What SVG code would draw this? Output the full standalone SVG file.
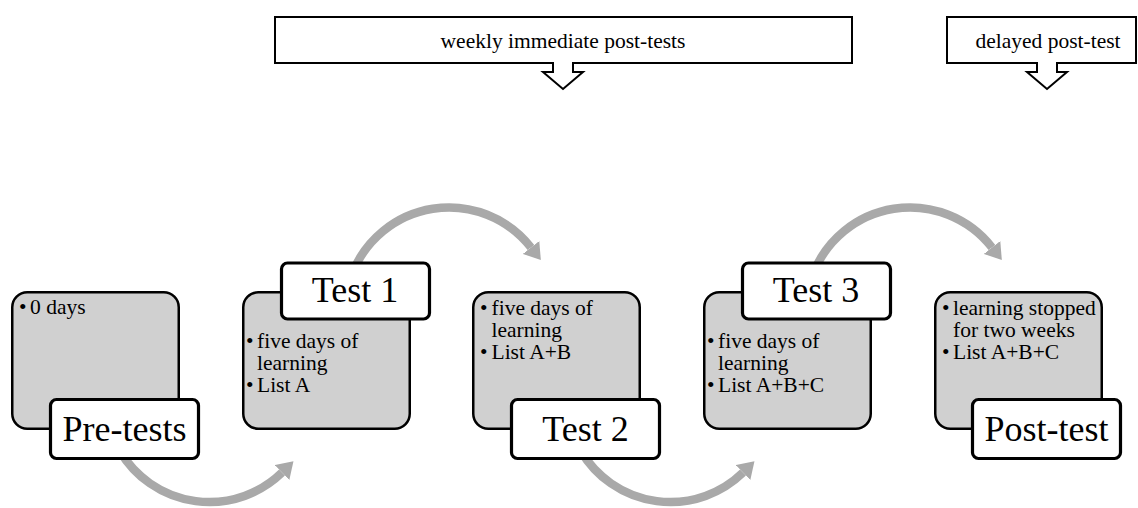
<svg xmlns="http://www.w3.org/2000/svg" width="1138" height="508" viewBox="0 0 1138 508">
  <style>
    .txt { font-family: "Liberation Serif", "Times New Roman", serif; fill: #000; }
    .body { font-size: 21.5px; }
    .title { font-size: 36px; text-anchor: middle; }
    .note { font-size: 21.5px; text-anchor: middle; }
    .panel { fill: #D0D0D0; stroke: #000; stroke-width: 2.5; }
    .tag { fill: #fff; stroke: #000; stroke-width: 3.2; }
    .callout { fill: #fff; stroke: #000; stroke-width: 2; stroke-linejoin: miter; }
    .flow { fill: none; stroke: #A9A9A9; stroke-width: 8.5; }
  </style>
  <defs>
    <marker id="head" markerUnits="userSpaceOnUse" viewBox="0 0 16 21" markerWidth="16" markerHeight="21" refX="0" refY="10.5" orient="auto">
      <path d="M0,0 L16,10.5 L0,21 Z" fill="#A9A9A9"/>
    </marker>
  </defs>

  <rect width="1138" height="508" fill="#fff"/>

  <!-- callouts above the timeline -->
  <g id="callout-weekly">
    <path class="callout" d="M275,17 H852 V63 H573 V72 H583 L563,89 L543,72 H553 V63 H275 Z"/>
    <text class="txt note" x="563" y="48">weekly immediate post-tests</text>
  </g>
  <g id="callout-delayed">
    <path class="callout" d="M947,17 H1136 V63 H1057 V72 H1067 L1047,89 L1027,72 H1037 V63 H947 Z"/>
    <text class="txt note" x="1048" y="48">delayed post-test</text>
  </g>

  <!-- curved connectors between stages -->
  <g id="connectors">
    <path class="flow" marker-end="url(#head)" d="M119.9,451 A104,104 0 0 0 282,472.5"/>
    <path class="flow" marker-end="url(#head)" d="M351.3,275.9 A104,104 0 0 1 531,247.5"/>
    <path class="flow" marker-end="url(#head)" d="M580.9,451 A104,104 0 0 0 743,472.5"/>
    <path class="flow" marker-end="url(#head)" d="M812.3,275.9 A104,104 0 0 1 992,247.5"/>
  </g>

  <g id="stage-pretests">
    <rect class="panel" x="12.25" y="292.25" width="166.5" height="136.5" rx="15"/>
    <text class="txt body" x="19" y="314">•</text>
    <text class="txt body" x="30" y="314">0 days</text>
    <rect class="tag" x="50.5" y="399.5" width="148" height="59" rx="6"/>
    <text class="txt title" x="124.5" y="441">Pre-tests</text>
  </g>

  <g id="stage-test1">
    <rect class="panel" x="243.25" y="292.25" width="166.5" height="136.5" rx="15"/>
    <text class="txt body" x="246" y="348">•</text>
    <text class="txt body" x="257" y="348">five days of</text>
    <text class="txt body" x="257" y="370">learning</text>
    <text class="txt body" x="246" y="392">•</text>
    <text class="txt body" x="257" y="392">List A</text>
    <rect class="tag" x="281.5" y="263" width="148" height="56" rx="6"/>
    <text class="txt title" x="355" y="302">Test 1</text>
  </g>

  <g id="stage-test2">
    <rect class="panel" x="473.25" y="292.25" width="166.5" height="136.5" rx="15"/>
    <text class="txt body" x="480" y="315">•</text>
    <text class="txt body" x="491.5" y="315">five days of</text>
    <text class="txt body" x="491.5" y="337">learning</text>
    <text class="txt body" x="480" y="359">•</text>
    <text class="txt body" x="491.5" y="359">List A+B</text>
    <rect class="tag" x="511.5" y="399.5" width="148" height="59" rx="6"/>
    <text class="txt title" x="585.5" y="441">Test 2</text>
  </g>

  <g id="stage-test3">
    <rect class="panel" x="704.25" y="292.25" width="166.5" height="136.5" rx="15"/>
    <text class="txt body" x="707" y="348">•</text>
    <text class="txt body" x="718" y="348">five days of</text>
    <text class="txt body" x="718" y="370">learning</text>
    <text class="txt body" x="707" y="392">•</text>
    <text class="txt body" x="718" y="392">List A+B+C</text>
    <rect class="tag" x="742.5" y="263" width="148" height="56" rx="6"/>
    <text class="txt title" x="816" y="302">Test 3</text>
  </g>

  <g id="stage-posttest">
    <rect class="panel" x="935.25" y="292.25" width="166.5" height="136.5" rx="15"/>
    <text class="txt body" x="942" y="315">•</text>
    <text class="txt body" x="953" y="315">learning stopped</text>
    <text class="txt body" x="953" y="337">for two weeks</text>
    <text class="txt body" x="942" y="359">•</text>
    <text class="txt body" x="953" y="359">List A+B+C</text>
    <rect class="tag" x="972.5" y="399.5" width="148" height="59" rx="6"/>
    <text class="txt title" x="1046.5" y="441">Post-test</text>
  </g>
</svg>
